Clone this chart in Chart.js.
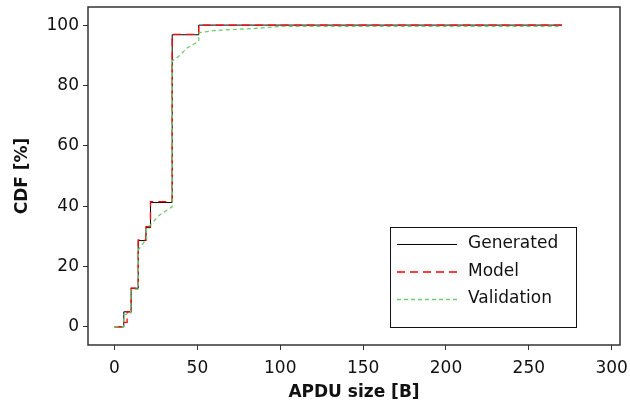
<!DOCTYPE html>
<html>
<head>
<meta charset="utf-8">
<script src="https://cdn.jsdelivr.net/npm/chart.js@4/dist/chart.umd.min.js"></script>
<style>
html,body{margin:0;padding:0;background:#fff;}
#wrap{width:630px;height:405px;position:relative;}
</style>
</head>
<body>
<div id="wrap"><canvas id="c" width="630" height="405"></canvas></div>
<script>
// ---- data ----
const seriesNames = ['Generated', 'Model', 'Validation'];
// Generated: step CDF, points are (x, CDF reached at x)
const generatedX = [0, 5.6, 10.0, 14.3, 19.0, 21.7, 34.8, 50.8, 270];
const generatedY = [0, 5.0, 12.8, 28.6, 32.9, 41.2, 96.8, 100, 100];
// Model: step CDF
const modelX = [0, 5.6, 7.6, 10.0, 14.3, 19.0, 21.7, 34.8, 50.8, 270];
const modelY = [0, 1.5, 5.0, 12.8, 28.8, 33.2, 41.5, 96.9, 100, 100];
// Validation: empirical CDF (drawn point to point)
const validationX = [0, 5.6, 5.6, 9.8, 9.8, 14.3, 14.3, 17.0, 19.3, 19.3, 22.0, 27.0, 34.8, 34.8, 38.7, 43.7, 50.7, 51.2, 60, 85, 101, 270];
const validationY = [0, 0, 4.0, 4.5, 12.3, 12.5, 25.5, 27.5, 29.0, 32.5, 34.0, 37.0, 39.8, 88.1, 89.6, 92.4, 94.6, 97.5, 98.2, 98.9, 99.6, 99.6];
const xTicks = [0, 50, 100, 150, 200, 250, 300];
const yTicks = [0, 20, 40, 60, 80, 100];

const toPts = (xs, ys) => xs.map((x, i) => ({x: x, y: ys[i]}));

const FONT = 'DejaVu Sans';
const colors = ['#000000', '#ff0000', 'rgb(110,205,110)'];
const dashes = [[], [8, 5], [4, 3]];
const widths = [1, 1.3, 1.3];

const framePlugin = {
  id: 'frameAndLegend',
  afterDraw(chart) {
    const ctx = chart.ctx;
    const a = chart.chartArea;
    ctx.save();
    ctx.strokeStyle = '#333';
    ctx.lineWidth = 1.5;
    ctx.setLineDash([]);
    ctx.strokeRect(a.left, a.top, a.right - a.left, a.bottom - a.top);
    // legend box
    const bx = 390, by = 227, bw = 186, bh = 100;
    ctx.fillStyle = '#fff';
    ctx.fillRect(bx, by, bw, bh);
    ctx.strokeStyle = '#111';
    ctx.lineWidth = 1;
    ctx.strokeRect(bx + 0.5, by + 0.5, bw, bh);
    const rows = [244, 271.5, 299];
    ctx.font = '17px "' + FONT + '"';
    ctx.textBaseline = 'middle';
    ctx.textAlign = 'left';
    for (let i = 0; i < 3; i++) {
      ctx.beginPath();
      ctx.strokeStyle = colors[i];
      ctx.lineWidth = widths[i];
      ctx.setLineDash(dashes[i]);
      ctx.moveTo(397, rows[i] + 0.5);
      ctx.lineTo(457, rows[i] + 0.5);
      ctx.stroke();
      ctx.setLineDash([]);
      ctx.fillStyle = '#111';
      ctx.fillText(seriesNames[i], 468, rows[i]);
    }
    ctx.restore();
  }
};

new Chart(document.getElementById('c'), {
  type: 'line',
  data: {
    datasets: [
      {label: seriesNames[0], data: toPts(generatedX, generatedY), borderColor: colors[0], borderWidth: widths[0], borderDash: dashes[0], stepped: true, pointRadius: 0, fill: false, order: 2},
      {label: seriesNames[1], data: toPts(modelX, modelY), borderColor: colors[1], borderWidth: widths[1], borderDash: dashes[1], stepped: true, pointRadius: 0, fill: false, order: 1},
      {label: seriesNames[2], data: toPts(validationX, validationY), borderColor: colors[2], borderWidth: widths[2], borderDash: dashes[2], stepped: false, tension: 0, pointRadius: 0, fill: false, order: 0}
    ]
  },
  options: {
    responsive: false,
    animation: false,
    devicePixelRatio: 1,
    layout: {padding: {top: 7, right: 10, left: 0, bottom: 0}},
    plugins: {legend: {display: false}, tooltip: {enabled: false}},
    scales: {
      x: {
        type: 'linear', min: -16, max: 305,
        afterBuildTicks: s => { s.ticks = xTicks.map(v => ({value: v})); },
        afterFit: s => { s.height = 60; s.paddingLeft = 0; s.paddingRight = 0; },
        grid: {display: true, drawOnChartArea: false, drawTicks: true, tickLength: 5, color: '#333', lineWidth: 1},
        border: {display: false},
        ticks: {font: {family: FONT, size: 17}, color: '#111', padding: 8, maxRotation: 0},
        title: {display: true, text: 'APDU size [B]', font: {family: FONT, size: 17, weight: 'bold'}, color: '#111', padding: {top: 0, bottom: 2}}
      },
      y: {
        type: 'linear', min: -6, max: 106,
        afterBuildTicks: s => { s.ticks = yTicks.map(v => ({value: v})); },
        afterFit: s => { s.width = 88; s.paddingTop = 0; s.paddingBottom = 0; },
        grid: {display: true, drawOnChartArea: false, drawTicks: true, tickLength: 5, color: '#333', lineWidth: 1},
        border: {display: false},
        ticks: {font: {family: FONT, size: 17}, color: '#111', padding: 4},
        title: {display: true, text: 'CDF [%]', font: {family: FONT, size: 17, weight: 'bold'}, color: '#111', padding: {top: 12, bottom: 8}}
      }
    }
  },
  plugins: [framePlugin]
});
</script>
</body>
</html>
